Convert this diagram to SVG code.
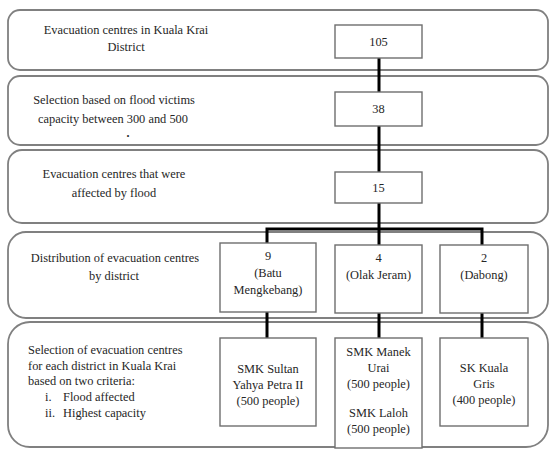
<svg xmlns="http://www.w3.org/2000/svg" width="550" height="450" viewBox="0 0 550 450">
<style>
.band{fill:#fff;stroke:#808080;stroke-width:1.8}
.box{fill:#fff;stroke:#6e6e6e;stroke-width:1.4}
text{font-family:"Liberation Serif","Times New Roman",serif;font-size:12.4px;fill:#262626}
.c{text-anchor:middle}
.conn{stroke:#000;stroke-width:3;fill:none}
</style>
<rect width="550" height="450" fill="#fff"/>
<g id="bands">
<rect class="band" x="8" y="10" width="540" height="60" rx="12"/>
<rect class="band" x="8" y="76" width="540" height="69" rx="12"/>
<rect class="band" x="8" y="150" width="540" height="73" rx="14"/>
<rect class="band" x="8" y="232" width="540" height="86" rx="18"/>
<rect class="band" x="8" y="322" width="540" height="125" rx="22"/>
</g>
<g id="labels">
<text class="c" x="126" y="34">Evacuation centres in Kuala Krai</text>
<text class="c" x="126" y="51">District</text>
<text class="c" x="114" y="104">Selection based on flood victims</text>
<text class="c" x="113" y="123">capacity between 300 and 500</text>
<text class="c" x="128" y="137" style="font-size:12px;font-weight:bold">.</text>
<text class="c" x="114" y="178">Evacuation centres that were</text>
<text class="c" x="114" y="197">affected by flood</text>
<text class="c" x="115" y="262">Distribution of evacuation centres</text>
<text class="c" x="114" y="280">by district</text>
<text x="28" y="354">Selection of evacuation centres</text>
<text x="28" y="370">for each district in Kuala Krai</text>
<text x="28" y="385">based on two criteria:</text>
<text x="45" y="401">i.</text><text x="63" y="401">Flood affected</text>
<text x="45" y="417">ii.</text><text x="63" y="417">Highest capacity</text>
</g>
<g id="connectors">
<line class="conn" x1="379" y1="58" x2="379" y2="92"/>
<line class="conn" x1="379" y1="126" x2="379" y2="172"/>
<line class="conn" x1="379" y1="203" x2="379" y2="245"/>
<polyline class="conn" points="267,243 267,229 482,229 482,245"/>
<line class="conn" x1="267" y1="312" x2="267" y2="338"/>
<line class="conn" x1="379" y1="313" x2="379" y2="338"/>
<line class="conn" x1="482" y1="313" x2="482" y2="338"/>
</g>
<g id="n105"><rect class="box" x="335" y="25" width="87" height="33"/><text class="c" x="378.5" y="46">105</text></g>
<g id="n38"><rect class="box" x="335" y="92" width="87" height="34"/><text class="c" x="378.5" y="113">38</text></g>
<g id="n15"><rect class="box" x="335" y="172" width="87" height="31"/><text class="c" x="378.5" y="192">15</text></g>
<g id="n9"><rect class="box" x="220" y="243" width="96" height="69"/><text class="c" x="268" y="260">9</text><text class="c" x="268" y="277">(Batu</text><text class="c" x="268" y="294">Mengkebang)</text></g>
<g id="n4"><rect class="box" x="335" y="245" width="87" height="68"/><text class="c" x="378.5" y="262">4</text><text class="c" x="378.5" y="279">(Olak Jeram)</text></g>
<g id="n2"><rect class="box" x="440" y="245" width="88" height="68"/><text class="c" x="484" y="262">2</text><text class="c" x="484" y="279">(Dabong)</text></g>
<g id="nSultan"><rect class="box" x="220" y="338" width="96" height="88"/><text class="c" x="268" y="373">SMK Sultan</text><text class="c" x="268" y="389">Yahya Petra II</text><text class="c" x="268" y="405">(500 people)</text></g>
<g id="nManek"><rect class="box" x="335" y="338" width="87" height="110"/><text class="c" x="378.5" y="356">SMK Manek</text><text class="c" x="378.5" y="372">Urai</text><text class="c" x="378.5" y="388">(500 people)</text><text class="c" x="378.5" y="417">SMK Laloh</text><text class="c" x="378.5" y="433">(500 people)</text></g>
<g id="nKuala"><rect class="box" x="440" y="338" width="88" height="88"/><text class="c" x="484" y="372">SK Kuala</text><text class="c" x="484" y="388">Gris</text><text class="c" x="484" y="404">(400 people)</text></g>
</svg>
